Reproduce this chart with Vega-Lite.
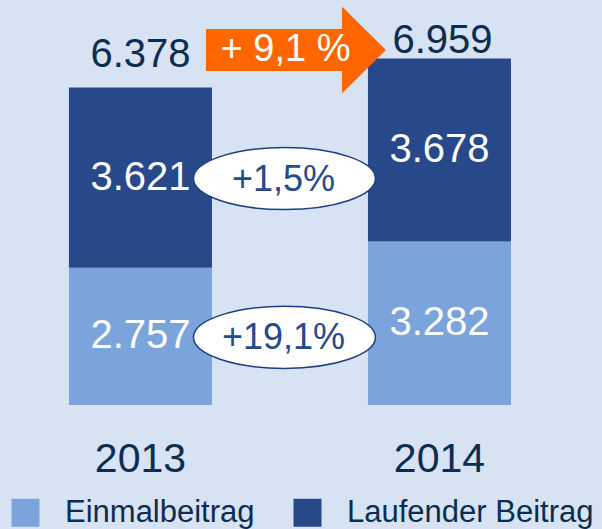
{
  "$schema": "https://vega.github.io/schema/vega-lite/v6.json",
  "width": 602,
  "height": 405,
  "autosize": {"type": "none"},
  "padding": {"left": 0, "top": 0, "right": 0, "bottom": 124},
  "background": "#D7E2F3",
  "config": {
    "view": {"stroke": null},
    "font": "Liberation Sans",
    "locale": {"number": {"decimal": ",", "thousands": ".", "grouping": [3], "currency": ["", " €"]}}
  },
  "datasets": {
    "main": [
      {"year": "2013", "type": "Einmalbeitrag", "value": 2757, "change": "+19,1%"},
      {"year": "2013", "type": "Laufender Beitrag", "value": 3621, "change": "+1,5%"},
      {"year": "2014", "type": "Einmalbeitrag", "value": 3282},
      {"year": "2014", "type": "Laufender Beitrag", "value": 3678}
    ],
    "totals": [
      {"year": "2013", "total": 6378},
      {"year": "2014", "total": 6959, "growth": "+ 9,1 %"}
    ]
  },
  "layer": [
    {
      "data": {"name": "main"},
      "transform": [
        {"stack": "value", "groupby": ["year"], "sort": [{"field": "type", "order": "ascending"}], "as": ["v0", "v1"]}
      ],
      "mark": {"type": "bar"},
      "encoding": {
        "x": {
          "field": "year", "type": "nominal",
          "scale": {"paddingInner": 0.5217, "paddingOuter": 0.2675, "align": 0.431},
          "axis": {"title": null, "domain": false, "ticks": false, "tickSize": 0, "labelFontSize": 41, "labelColor": "#0B2D50", "labelPadding": 66, "labelBaseline": "alphabetic", "labelAngle": 0, "grid": false}
        },
        "y": {"field": "v1", "type": "quantitative", "scale": {"domain": [0, 8133], "nice": false}, "axis": null},
        "y2": {"field": "v0"},
        "color": {
          "field": "type", "type": "nominal",
          "scale": {"domain": ["Einmalbeitrag", "Laufender Beitrag"], "range": ["#7BA3DC", "#274889"]},
          "legend": {
            "title": null, "orient": "none", "legendX": 10, "legendY": 497, "direction": "horizontal",
            "symbolType": "square", "symbolSize": 784, "symbolStrokeWidth": 0, "symbolOpacity": 1,
            "labelFontSize": 31, "labelColor": "#0B2D50", "labelOffset": 24, "columnPadding": 37, "labelLimit": 400
          }
        }
      }
    },
    {
      "data": {"name": "main"},
      "transform": [
        {"stack": "value", "groupby": ["year"], "sort": [{"field": "type", "order": "ascending"}], "as": ["v0", "v1"]},
        {"calculate": "(datum.v0 + datum.v1) / 2", "as": "mid"}
      ],
      "mark": {"type": "text", "fontSize": 40, "color": "#FFFFFF", "baseline": "middle"},
      "encoding": {
        "x": {"field": "year", "type": "nominal"},
        "y": {"field": "mid", "type": "quantitative", "scale": {"domain": [0, 8133], "nice": false}, "axis": null},
        "text": {"field": "value", "type": "quantitative", "format": ",d"}
      }
    },
    {
      "data": {"name": "totals"},
      "transform": [{"filter": "datum.year == '2013'"}],
      "mark": {"type": "text", "fontSize": 40, "color": "#0B2D50", "baseline": "alphabetic", "dy": -20},
      "encoding": {
        "x": {"field": "year", "type": "nominal"},
        "y": {"field": "total", "type": "quantitative", "scale": {"domain": [0, 8133], "nice": false}, "axis": null},
        "text": {"field": "total", "type": "quantitative", "format": ",d"}
      }
    },
    {
      "data": {"name": "totals"},
      "transform": [{"filter": "datum.year == '2014'"}],
      "mark": {"type": "text", "fontSize": 40, "color": "#0B2D50", "baseline": "alphabetic", "dy": -5, "dx": 3},
      "encoding": {
        "x": {"field": "year", "type": "nominal"},
        "y": {"field": "total", "type": "quantitative", "scale": {"domain": [0, 8133], "nice": false}, "axis": null},
        "text": {"field": "total", "type": "quantitative", "format": ",d"}
      }
    },
    {
      "data": {"name": "main"},
      "transform": [
        {"stack": "value", "groupby": ["year"], "sort": [{"field": "type", "order": "ascending"}], "as": ["v0", "v1"]},
        {"calculate": "(datum.v0 + datum.v1) / 2", "as": "mid"},
        {"filter": "datum.year == '2013'"}
      ],
      "mark": {
        "type": "point", "filled": true, "fill": "#FFFFFF", "stroke": "#1F3F80", "strokeWidth": 1.5, "opacity": 1, "fillOpacity": 1, "strokeOpacity": 1,
        "shape": "M-1,0 C-1,-0.1883 -0.5523,-0.341 0,-0.341 C0.5523,-0.341 1,-0.1883 1,0 C1,0.1883 0.5523,0.341 0,0.341 C-0.5523,0.341 -1,0.1883 -1,0 Z",
        "size": 33124, "xOffset": 144, "yOffset": 1
      },
      "encoding": {
        "x": {"field": "year", "type": "nominal"},
        "y": {"field": "mid", "type": "quantitative", "scale": {"domain": [0, 8133], "nice": false}, "axis": null}
      }
    },
    {
      "data": {"name": "main"},
      "transform": [
        {"stack": "value", "groupby": ["year"], "sort": [{"field": "type", "order": "ascending"}], "as": ["v0", "v1"]},
        {"calculate": "(datum.v0 + datum.v1) / 2", "as": "mid"},
        {"filter": "datum.year == '2013'"}
      ],
      "mark": {"type": "text", "fontSize": 36, "color": "#264A8C", "baseline": "middle", "xOffset": 143, "yOffset": 2},
      "encoding": {
        "x": {"field": "year", "type": "nominal"},
        "y": {"field": "mid", "type": "quantitative", "scale": {"domain": [0, 8133], "nice": false}, "axis": null},
        "text": {"field": "change", "type": "nominal"}
      }
    },
    {
      "data": {"name": "totals"},
      "transform": [{"filter": "datum.year == '2014'"}],
      "mark": {
        "type": "point", "filled": true, "fill": "#FF6600", "strokeWidth": 0, "opacity": 1, "fillOpacity": 1,
        "shape": "M-1,-0.233 L0.511,-0.233 L0.511,-0.483 L1,0 L0.511,0.483 L0.511,0.233 L-1,0.233 Z",
        "size": 32400, "xOffset": -143.5, "yOffset": -8.5
      },
      "encoding": {
        "x": {"field": "year", "type": "nominal"},
        "y": {"field": "total", "type": "quantitative", "scale": {"domain": [0, 8133], "nice": false}, "axis": null}
      }
    },
    {
      "data": {"name": "totals"},
      "transform": [{"filter": "datum.year == '2014'"}],
      "mark": {"type": "text", "fontSize": 38, "color": "#FFFFFF", "baseline": "middle", "xOffset": -154, "yOffset": -8},
      "encoding": {
        "x": {"field": "year", "type": "nominal"},
        "y": {"field": "total", "type": "quantitative", "scale": {"domain": [0, 8133], "nice": false}, "axis": null},
        "text": {"field": "growth", "type": "nominal"}
      }
    }
  ]
}
